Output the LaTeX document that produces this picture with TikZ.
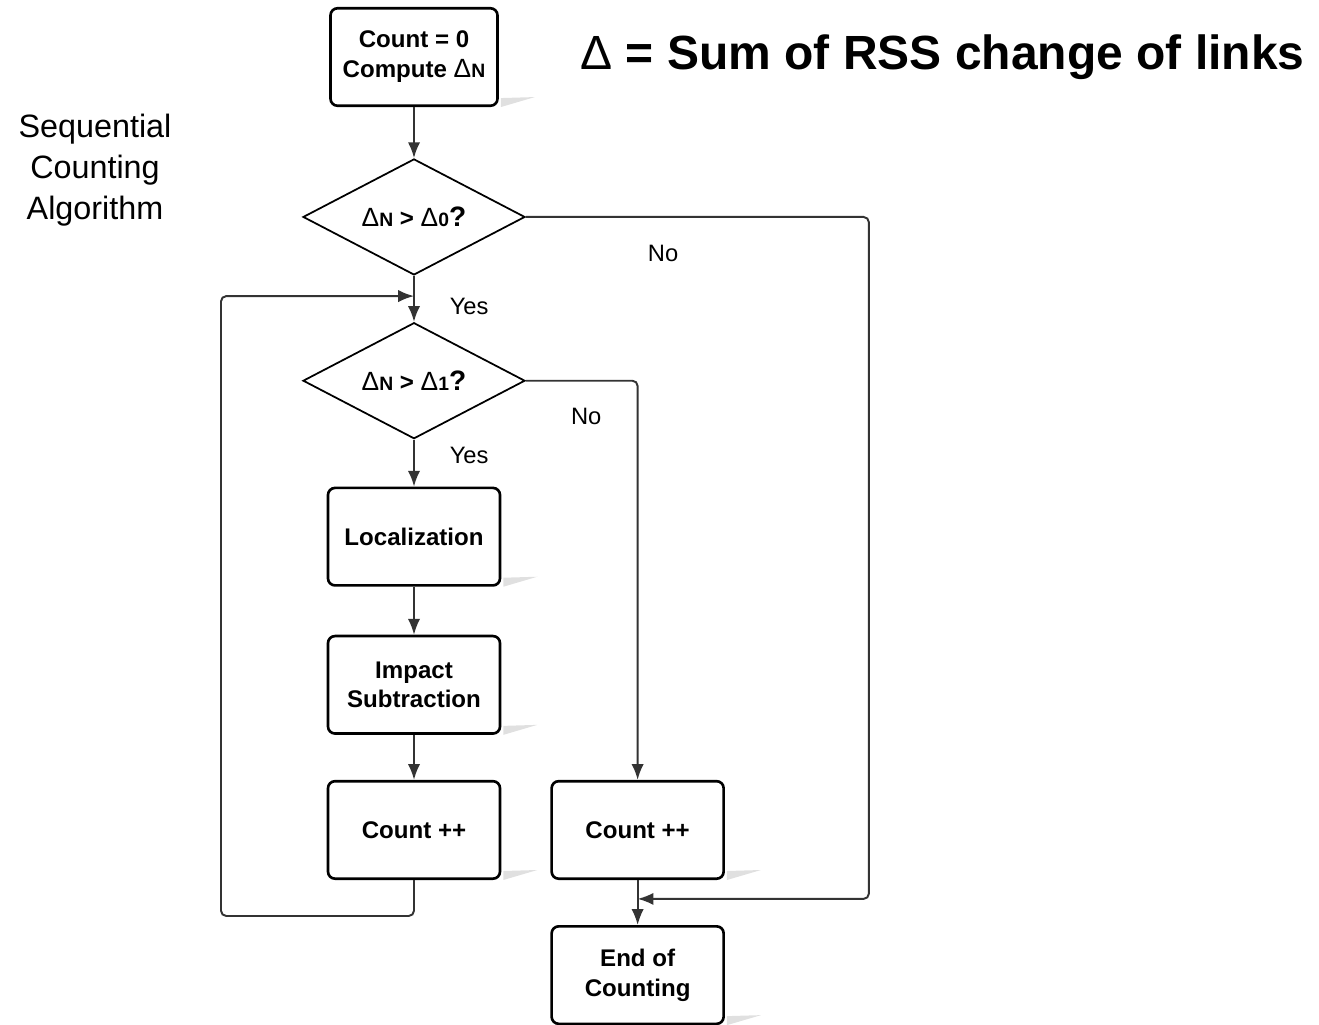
\documentclass[tikz,border=0pt]{standalone}
\usepackage{fontspec}
\setmainfont{Liberation Sans}
\usetikzlibrary{shapes.geometric,arrows.meta,positioning,calc}
\definecolor{linegray}{HTML}{333333}
\newcommand{\boxfont}{\fontsize{13.7}{17}\selectfont\bfseries}
\newcommand{\lblfont}{\fontsize{13.5}{16}\selectfont}
\newcommand{\dlt}[1]{{\mdseries\fontsize{15}{15}\selectfont Δ}{\fontsize{11}{10}\selectfont #1}}
\tikzstyle{process} = [rectangle, rounded corners=4pt, minimum width=3.44cm, minimum height=1.95cm, text centered, align=center, draw=black, line width=1.5pt, font=\boxfont]
\tikzstyle{decision} = [diamond, aspect=2.4, minimum width=4.44cm, minimum height=2.32cm, inner sep=0pt, text centered, draw=black, line width=1pt, font=\boxfont]
\tikzstyle{arrow} = [line width=1.1pt, draw=linegray, ->, >={Latex[length=9pt,width=7pt]}, rounded corners=3pt]
\tikzstyle{lbl} = [font=\lblfont]
\tikzstyle{boxshadow} = [fill=black!12, draw=none]

\begin{document}
\begin{tikzpicture}
        \useasboundingbox (0,0) rectangle (26.38,-20.48);
        \node (start) [process, minimum width=3.34cm] at (8.28,-1.14) {Count = 0\\Compute \dlt{N}};
        \node (dec0) [decision, below = 1.02cm of start] {\dlt{N} > \dlt{0}{\fontsize{16}{16}\selectfont ?}};
        \node (dec1) [decision, below = 0.92cm of dec0] {\dlt{N} > \dlt{1}{\fontsize{16}{16}\selectfont ?}};
        \node (loc) [process, below = 0.94cm of dec1] {Localization};
        \node (imp) [process, below = 0.96cm of loc] {Impact\\Subtraction};
        \node (cnt1) [process, below = 0.9cm of imp] {Count ++};
        \node (cnt2) [process, right = 0.98cm of cnt1] {Count ++};
        \node (fin) [process, below = 0.9cm of cnt2] {End of\\Counting};

        \node (title) at (18.85,-1.14) {\fontsize{27.3}{32}\selectfont\bfseries {\mdseries Δ} = Sum of RSS change of links};
        \node (algo) [align=center, font=\fontsize{18.4}{23.3}\selectfont] at (1.9,-3.4) {Sequential\\Counting\\Algorithm};

        \coordinate (join) at ($(dec0.south)!0.44!(dec1.north)$);
        \coordinate (merge) at ($(cnt2.south)!0.42!(fin.north)$);
        \coordinate (farright) at ($(dec0.east)+(6.86,0)$);
        \coordinate (loopbot) at ($(cnt1.south)+(0,-0.72)$);
        \coordinate (loopleft) at ($(loopbot)+(-3.86,0)$);

        \foreach \n in {start,loc,imp,cnt1,cnt2,fin}
            \fill [boxshadow] ($(\n.south east)+(0.04,0.18)$) -- ++(0.68,0.02) -- ($(\n.south east)+(0.04,0)$) -- cycle;

        \draw [arrow] (start) -- (dec0);
        \draw [arrow] (dec0) -- node[lbl, pos=0.67, right=0.58cm] {Yes} (dec1);
        \draw [arrow] (dec0.east) -- node[lbl, pos=0.4, below=0.42cm] {No} (farright) |- (merge);
        \draw [arrow] (dec1.east) -| node[lbl, pos=0.27, below=0.42cm] {No} (cnt2.north);
        \draw [arrow] (dec1) -- node[lbl, pos=0.34, right=0.58cm] {Yes} (loc);
        \draw [arrow] (loc) -- (imp);
        \draw [arrow] (imp) -- (cnt1);
        \draw [arrow] (cnt1.south) -- (loopbot) -- (loopleft) |- (join);
        \draw [arrow] (cnt2) -- (fin);
    \end{tikzpicture}
\end{document}
